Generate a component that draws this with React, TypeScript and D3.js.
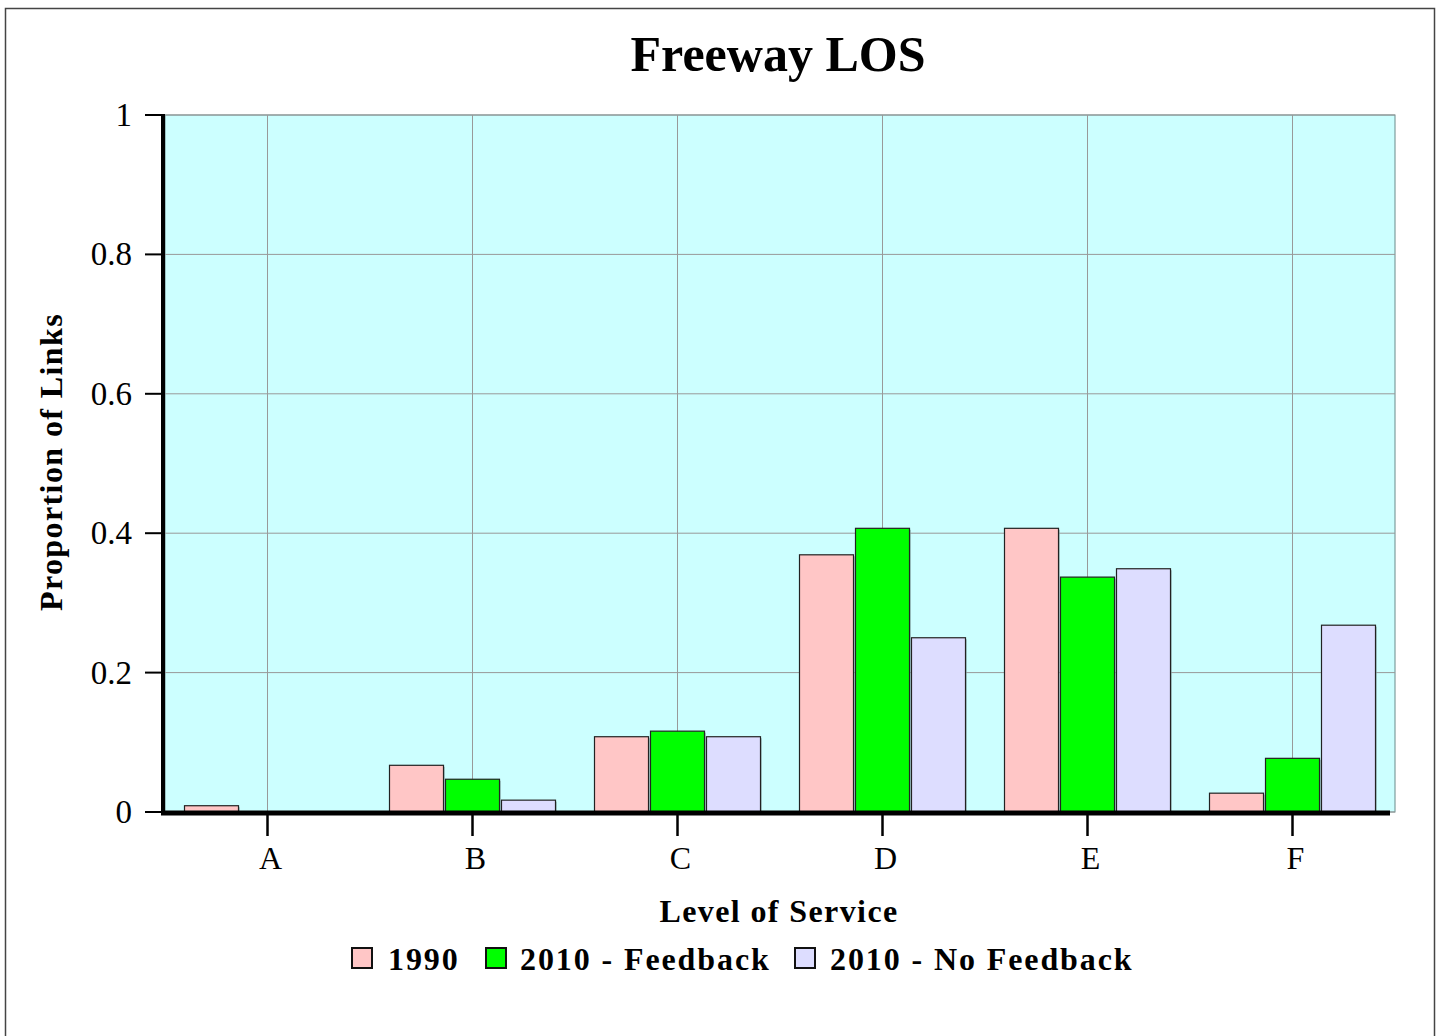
import React from "react";
import * as d3 from "d3";

const categories = ["A", "B", "C", "D", "E", "F"];
const seriesNames = ["1990", "2010 - Feedback", "2010 - No Feedback"];
const values1990 = [0.009, 0.067, 0.108, 0.369, 0.407, 0.027];
const valuesFeedback = [0, 0.047, 0.116, 0.407, 0.337, 0.077];
const valuesNoFeedback = [0, 0.017, 0.108, 0.25, 0.349, 0.268];
const yTicks = [0, 0.2, 0.4, 0.6, 0.8, 1];
const colors = ["#FFC6C6", "#00FF00", "#DDDDFF"];

const W = 1442;
const H = 1036;
const m = { left: 165, right: 1395, top: 115, bottom: 812 };
const font = "'Liberation Serif', 'Times New Roman', serif";

export default function App() {
  const series = [values1990, valuesFeedback, valuesNoFeedback];
  const x = d3.scaleBand<string>().domain(categories).range([m.left, m.right]).padding(0);
  const y = d3.scaleLinear().domain([0, 1]).range([m.bottom, m.top]);
  const barW = 54;
  const step = 56;
  const legendItems = [
    { x: 352, tx: 388 },
    { x: 486, tx: 520 },
    { x: 795, tx: 830 },
  ];
  return (
    <svg width={W} height={H} style={{ position: "absolute", left: 0, top: 0, background: "#fff" }}>
      <rect x={5.5} y={8.5} width={1429} height={1030} fill="#fff" stroke="#444" strokeWidth={1.5} />
      <text x={778} y={71} textAnchor="middle" fontFamily={font} fontWeight="bold" fontSize={50}>
        Freeway LOS
      </text>
      <rect x={m.left} y={m.top} width={m.right - m.left} height={m.bottom - m.top} fill="#CCFFFF" stroke="#6a8a8a" strokeWidth={1} />
      {yTicks.map((t) => (
        <line key={"gy" + t} x1={m.left} x2={m.right} y1={y(t)} y2={y(t)} stroke="#999" strokeWidth={1} />
      ))}
      {categories.map((c) => (
        <line key={"gx" + c} x1={x(c)! + x.bandwidth() / 2} x2={x(c)! + x.bandwidth() / 2} y1={m.top} y2={m.bottom} stroke="#999" strokeWidth={1} />
      ))}
      {categories.map((c, i) =>
        series.map((s, j) => {
          const cx = x(c)! + x.bandwidth() / 2 + (j - 1) * step;
          const v = s[i];
          if (v <= 0) return null;
          const top = y(v);
          return (
            <g key={c + j}>
              <rect x={cx - barW / 2 + 1.5} y={top + 1.5} width={barW} height={m.bottom - top} fill="#8aa" opacity={0.6} />
              <rect x={cx - barW / 2} y={top} width={barW} height={m.bottom - top} fill={colors[j]} stroke="#222" strokeWidth={1.2} />
            </g>
          );
        })
      )}
      {/* axes */}
      <line x1={m.left - 2} x2={m.left - 2} y1={m.top} y2={m.bottom + 2} stroke="#000" strokeWidth={4} />
      <line x1={m.left - 4} x2={m.right - 5} y1={m.bottom + 1} y2={m.bottom + 1} stroke="#000" strokeWidth={5} />
      {yTicks.map((t) => (
        <g key={"ty" + t}>
          <line x1={m.left - 20} x2={m.left} y1={y(t)} y2={y(t)} stroke="#000" strokeWidth={2} />
          <text x={m.left - 33} y={y(t) + 11} textAnchor="end" fontFamily={font} fontSize={33}>
            {d3.format("~g")(t)}
          </text>
        </g>
      ))}
      {categories.map((c) => {
        const cx = x(c)! + x.bandwidth() / 2;
        return (
          <g key={"tx" + c}>
            <line x1={cx} x2={cx} y1={m.bottom} y2={m.bottom + 24} stroke="#000" strokeWidth={2.5} />
            <text x={cx + 3} y={869} textAnchor="middle" fontFamily={font} fontSize={32}>
              {c}
            </text>
          </g>
        );
      })}
      <text x={779} y={922} textAnchor="middle" fontFamily={font} fontWeight="bold" fontSize={32} letterSpacing={1.4}>
        Level of Service
      </text>
      <text transform={`translate(62,462) rotate(-90)`} textAnchor="middle" fontFamily={font} fontWeight="bold" fontSize={32} letterSpacing={1.4}>
        Proportion of Links
      </text>
      {seriesNames.map((n, j) => (
        <g key={"lg" + n}>
          <rect x={legendItems[j].x} y={948} width={20} height={20} fill={colors[j]} stroke="#111" strokeWidth={2} />
          <text x={legendItems[j].tx} y={970} fontFamily={font} fontWeight="bold" fontSize={32} letterSpacing={1.9}>
            {n}
          </text>
        </g>
      ))}
    </svg>
  );
}
